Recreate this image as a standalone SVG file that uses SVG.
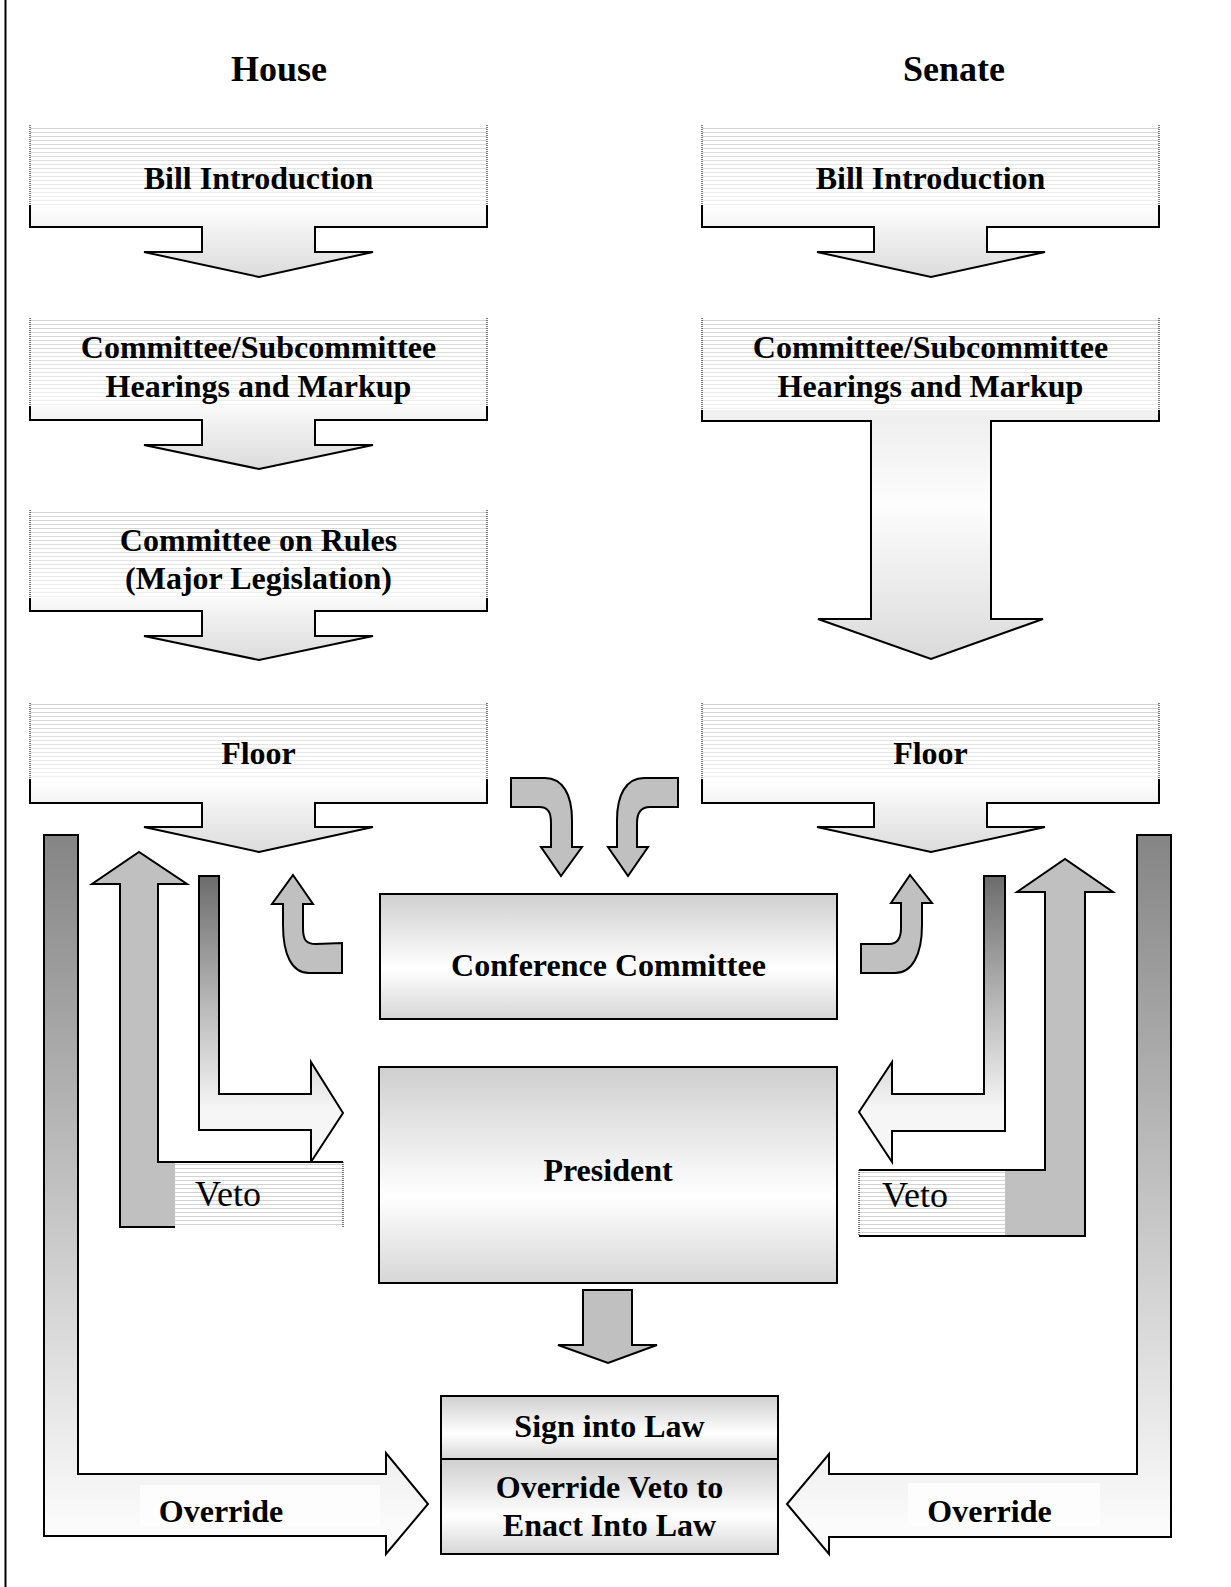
<svg xmlns="http://www.w3.org/2000/svg" width="1231" height="1587" viewBox="0 0 1231 1587">
<style>
.h{font-family:"Liberation Serif","Times New Roman",serif;font-weight:bold;font-size:36px;text-anchor:middle;fill:#000}
.t{font-family:"Liberation Serif","Times New Roman",serif;font-weight:bold;font-size:32px;text-anchor:middle;fill:#000}
.v{font-family:"Liberation Serif","Times New Roman",serif;font-size:36px;fill:#000}
.ln{fill:none;stroke:#000;stroke-width:2;stroke-linejoin:miter}
.sk{stroke:#000;stroke-width:2;stroke-linejoin:miter}
.dot{fill:none;stroke:#000;stroke-width:1;stroke-dasharray:1 1}
.gray{fill:#c0c0c0;stroke:#000;stroke-width:2}
.box{stroke:#000;stroke-width:2}
</style>
<defs>
<pattern id="stripes" patternUnits="userSpaceOnUse" width="8" height="4">
<rect width="8" height="4" fill="#fff"/>
<rect width="8" height="1" fill="#d2d2d2"/>
</pattern>
<linearGradient id="fade" x1="0" y1="0" x2="0" y2="1">
<stop offset="0" stop-color="#fff" stop-opacity="0"/>
<stop offset="1" stop-color="#fff" stop-opacity="0.7"/>
</linearGradient>
<linearGradient id="gBlock" x1="0" y1="0" x2="0" y2="1">
<stop offset="0" stop-color="#fff"/>
<stop offset="0.55" stop-color="#fdfdfd"/>
<stop offset="0.72" stop-color="#efefef"/>
<stop offset="1" stop-color="#dcdcdc"/>
</linearGradient>
<linearGradient id="gBig" x1="0" y1="0" x2="0" y2="1">
<stop offset="0" stop-color="#fff"/>
<stop offset="0.3" stop-color="#efefef"/>
<stop offset="0.55" stop-color="#fdfdfd"/>
<stop offset="0.85" stop-color="#e6e6e6"/>
<stop offset="1" stop-color="#dadada"/>
</linearGradient>
<linearGradient id="gOverride" gradientUnits="userSpaceOnUse" x1="0" y1="835" x2="0" y2="1525">
<stop offset="0" stop-color="#858585"/>
<stop offset="1" stop-color="#fbfbfb"/>
</linearGradient>
<linearGradient id="gNarrow" gradientUnits="userSpaceOnUse" x1="0" y1="876" x2="0" y2="1110">
<stop offset="0" stop-color="#6c6c6c"/>
<stop offset="1" stop-color="#f6f6f6"/>
</linearGradient>
<linearGradient id="gBox" x1="0" y1="0" x2="0" y2="1">
<stop offset="0" stop-color="#cfcfcf"/>
<stop offset="0.6" stop-color="#fff"/>
<stop offset="1" stop-color="#d6d6d6"/>
</linearGradient>
</defs>

<rect width="1231" height="1587" fill="#fff"/>
<line x1="5.5" y1="0" x2="5.5" y2="1587" stroke="#000" stroke-width="2"/>

<g id="headers">
<text class="h" x="279" y="81">House</text>
<text class="h" x="954" y="81">Senate</text>
</g>

<g id="house-bill-intro">
<path d="M30,125 H487 V227 H315 V252 H373 L259,277 L144,252 H202 V227 H30 Z" fill="url(#gBlock)"/>
<rect x="30" y="125" width="457" height="80" fill="url(#stripes)"/>
<rect x="30" y="125" width="457" height="80" fill="url(#fade)"/>
<path class="ln" d="M30,205 V227 H202 V252 H144 L259,277 L373,252 H315 V227 H487 V205"/>
<path class="dot" d="M30,125 V205 M487,125 V205"/>
<text class="t" x="258.5" y="189">Bill Introduction</text>
</g>

<g id="house-committee">
<path d="M30,318 H487 V420 H315 V445 H373 L259,469 L144,445 H202 V420 H30 Z" fill="url(#gBlock)"/>
<rect x="30" y="318" width="457" height="88" fill="url(#stripes)"/>
<rect x="30" y="318" width="457" height="88" fill="url(#fade)"/>
<path class="ln" d="M30,406 V420 H202 V445 H144 L259,469 L373,445 H315 V420 H487 V406"/>
<path class="dot" d="M30,318 V406 M487,318 V406"/>
<text class="t" x="258.5" y="358">Committee/Subcommittee</text>
<text class="t" x="258.5" y="397">Hearings and Markup</text>
</g>

<g id="house-rules">
<path d="M30,510 H487 V611 H315 V636 H373 L259,660 L144,636 H202 V611 H30 Z" fill="url(#gBlock)"/>
<rect x="30" y="510" width="457" height="88" fill="url(#stripes)"/>
<rect x="30" y="510" width="457" height="88" fill="url(#fade)"/>
<path class="ln" d="M30,598 V611 H202 V636 H144 L259,660 L373,636 H315 V611 H487 V598"/>
<path class="dot" d="M30,510 V598 M487,510 V598"/>
<text class="t" x="258.5" y="551">Committee on Rules</text>
<text class="t" x="258.5" y="589">(Major Legislation)</text>
</g>

<g id="house-floor">
<path d="M30,703 H487 V803 H315 V827 H373 L259,852 L144,827 H202 V803 H30 Z" fill="url(#gBlock)"/>
<rect x="30" y="703" width="457" height="76" fill="url(#stripes)"/>
<rect x="30" y="703" width="457" height="76" fill="url(#fade)"/>
<path class="ln" d="M30,779 V803 H202 V827 H144 L259,852 L373,827 H315 V803 H487 V779"/>
<path class="dot" d="M30,703 V779 M487,703 V779"/>
<text class="t" x="258.5" y="764">Floor</text>
</g>

<g id="senate-bill-intro">
<path d="M702,125 H1159 V227 H987 V252 H1045 L931,277 L817,252 H874 V227 H702 Z" fill="url(#gBlock)"/>
<rect x="702" y="125" width="457" height="80" fill="url(#stripes)"/>
<rect x="702" y="125" width="457" height="80" fill="url(#fade)"/>
<path class="ln" d="M702,205 V227 H874 V252 H817 L931,277 L1045,252 H987 V227 H1159 V205"/>
<path class="dot" d="M702,125 V205 M1159,125 V205"/>
<text class="t" x="930.5" y="189">Bill Introduction</text>
</g>

<g id="senate-committee">
<path d="M702,318 H1159 V421 H991 V619 H1043 L931,659 L818,619 H871 V421 H702 Z" fill="url(#gBig)"/>
<rect x="702" y="318" width="457" height="92" fill="url(#stripes)"/>
<rect x="702" y="318" width="457" height="92" fill="url(#fade)"/>
<path class="ln" d="M702,410 V421 H871 V619 H818 L931,659 L1043,619 H991 V421 H1159 V410"/>
<path class="dot" d="M702,318 V410 M1159,318 V410"/>
<text class="t" x="930.5" y="358">Committee/Subcommittee</text>
<text class="t" x="930.5" y="397">Hearings and Markup</text>
</g>

<g id="senate-floor">
<path d="M702,703 H1159 V803 H987 V827 H1045 L931,852 L817,827 H874 V803 H702 Z" fill="url(#gBlock)"/>
<rect x="702" y="703" width="457" height="76" fill="url(#stripes)"/>
<rect x="702" y="703" width="457" height="76" fill="url(#fade)"/>
<path class="ln" d="M702,779 V803 H874 V827 H817 L931,852 L1045,827 H987 V803 H1159 V779"/>
<path class="dot" d="M702,703 V779 M1159,703 V779"/>
<text class="t" x="930.5" y="764">Floor</text>
</g>

<g id="conference-committee">
<rect class="box" x="380" y="894" width="457" height="125" fill="url(#gBox)"/>
<text class="t" x="608.5" y="976">Conference Committee</text>
</g>

<g id="president">
<rect class="box" x="379" y="1067" width="458" height="216" fill="url(#gBox)"/>
<text class="t" x="608" y="1181">President</text>
</g>

<g id="law">
<rect class="box" x="441" y="1396" width="337" height="63" fill="url(#gBox)"/>
<rect class="box" x="441" y="1459" width="337" height="95" fill="url(#gBox)"/>
<text class="t" x="609.5" y="1437">Sign into Law</text>
<text class="t" x="609.5" y="1498">Override Veto to</text>
<text class="t" x="609.5" y="1536">Enact Into Law</text>
</g>

<g id="connectors">
<path class="gray" d="M511,778 L545,778 C563,778 572,795 572,820 L572,847 L582,847 L561,876 L541,847 L551,847 L551,823 C551,812 548,807 539,807 L511,807 Z"/>
<path class="gray" d="M678,778 L678,807 L650,807 C641,807 637,812 637,823 L637,847 L648,847 L628,876 L608,847 L617,847 L617,820 C617,795 626,778 644,778 Z"/>
<path class="gray" d="M293,875 L313,904 L303,904 L303,928 C303,940 306,944 316,944 L342,943 L342,973 L309,973 C292,973 283,955 283,925 L283,904 L272,904 Z"/>
<path class="gray" d="M910,875 L932,903 L922,903 L922,925 C922,955 912,973 895,973 L861,973 L861,944 L889,944 C898,944 901,938 901,928 L901,903 L891,903 Z"/>

<path class="sk" fill="url(#gNarrow)" d="M199,876 L219,876 L219,1094 L311,1094 L311,1062 L343,1113 L311,1162 L311,1130 L199,1130 Z"/>
<path class="sk" fill="url(#gNarrow)" d="M984,876 L1005,876 L1005,1131 L892,1131 L892,1162 L859,1112 L892,1062 L892,1094 L984,1094 Z"/>

<path d="M120,1227 L120,884 L92,884 L139,852 L187,884 L158,884 L158,1162 L343,1162 L343,1227 Z" fill="#c0c0c0"/>
<rect x="175" y="1163" width="168" height="64" fill="url(#stripes)"/>
<path class="ln" d="M175,1227 L120,1227 L120,884 L92,884 L139,852 L187,884 L158,884 L158,1162 L343,1162"/>
<path class="dot" d="M343,1162 V1227"/>
<text class="v" x="195" y="1206">Veto</text>

<path d="M1085,1236 L1085,892 L1113,892 L1065,859 L1017,892 L1045,892 L1045,1170 L859,1170 L859,1236 Z" fill="#c0c0c0"/>
<rect x="859" y="1171" width="146" height="64" fill="url(#stripes)"/>
<path class="ln" d="M859,1236 L1085,1236 L1085,892 L1113,892 L1065,859 L1017,892 L1045,892 L1045,1170 L859,1170"/>
<path class="dot" d="M859,1170 V1236"/>
<text class="v" x="882" y="1207">Veto</text>

<path class="gray" d="M583,1290 L632,1290 L632,1345 L657,1345 L608,1363 L558,1345 L583,1345 Z"/>

<path class="sk" fill="url(#gOverride)" d="M44,835 L78,835 L78,1474 L386,1474 L386,1453 L428,1504 L386,1554 L386,1536 L44,1536 Z"/>
<rect x="140" y="1485" width="240" height="42" fill="#fdfdfd"/>
<text class="t" x="221" y="1522">Override</text>
<path class="sk" fill="url(#gOverride)" d="M1137,835 L1171,835 L1171,1537 L829,1537 L829,1554 L787,1504 L829,1454 L829,1474 L1137,1474 Z"/>
<rect x="908" y="1483" width="192" height="44" fill="#fdfdfd"/>
<text class="t" x="989.5" y="1522">Override</text>
</g>
</svg>
